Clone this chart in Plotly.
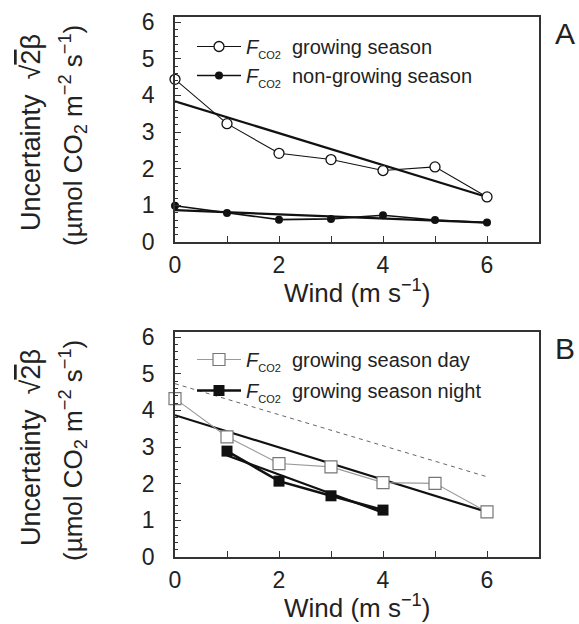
import plotly.graph_objects as go

W, H = 579, 624

# ---- data ----
wind_a = [0, 1, 2, 3, 4, 5, 6]
grow_a = [4.44, 3.23, 2.42, 2.25, 1.95, 2.05, 1.23]
nongrow_a = [0.99, 0.79, 0.61, 0.63, 0.73, 0.60, 0.53]
fit_x = [0, 6]
fit_grow = [3.84, 1.23]
fit_nongrow = [0.87, 0.53]

wind_day = [0, 1, 2, 3, 4, 5, 6]
day_b = [4.32, 3.28, 2.55, 2.46, 2.03, 2.01, 1.23]
wind_night = [1, 2, 3, 4]
night_b = [2.89, 2.07, 1.67, 1.28]
fit_night_x = [1, 4]
fit_night = [2.77, 1.21]
fit_day = [3.87, 1.23]
dash_line = [4.73, 2.19]

xticks = [0, 1, 2, 3, 4, 5, 6, 7]
xticktext = ["0", "", "2", "", "4", "", "6", ""]
yticks = [0, 1, 2, 3, 4, 5, 6]

FONT = "Liberation Sans, Arial, sans-serif"
INK = "#222222"
FCO2 = "<i>F</i><sub><span style='font-size:11px'>CO2</span></sub>"

fig = go.Figure()

# Panel A
fig.add_trace(go.Scatter(x=fit_x, y=fit_grow, mode="lines", line=dict(color="#111", width=2.2),
                         showlegend=False, xaxis="x", yaxis="y", hoverinfo="skip"))
fig.add_trace(go.Scatter(x=fit_x, y=fit_nongrow, mode="lines", line=dict(color="#111", width=2.2),
                         showlegend=False, xaxis="x", yaxis="y", hoverinfo="skip"))
fig.add_trace(go.Scatter(x=wind_a, y=grow_a, mode="lines+markers",
                         name=FCO2 + "  growing season",
                         line=dict(color="#111", width=1.1),
                         marker=dict(symbol="circle", size=10, color="white", line=dict(color="#111", width=1.3)),
                         cliponaxis=False, xaxis="x", yaxis="y", legend="legend"))
fig.add_trace(go.Scatter(x=wind_a, y=nongrow_a, mode="lines+markers",
                         name=FCO2 + "  non-growing season",
                         line=dict(color="#111", width=1.6),
                         marker=dict(symbol="circle", size=8, color="#111"),
                         cliponaxis=False, xaxis="x", yaxis="y", legend="legend"))

# Panel B
fig.add_trace(go.Scatter(x=fit_x, y=dash_line, mode="lines", line=dict(color="#666", width=1, dash="4px,4px"),
                         showlegend=False, xaxis="x2", yaxis="y2", hoverinfo="skip"))
fig.add_trace(go.Scatter(x=fit_x, y=fit_day, mode="lines", line=dict(color="#111", width=2.2),
                         showlegend=False, xaxis="x2", yaxis="y2", hoverinfo="skip"))
fig.add_trace(go.Scatter(x=fit_night_x, y=fit_night, mode="lines", line=dict(color="#111", width=2.2),
                         showlegend=False, xaxis="x2", yaxis="y2", hoverinfo="skip"))
fig.add_trace(go.Scatter(x=wind_day, y=day_b, mode="lines+markers",
                         name=FCO2 + "  growing season day",
                         line=dict(color="#9a9a9a", width=1.1),
                         marker=dict(symbol="square", size=12, color="white", line=dict(color="#777", width=1.2)),
                         cliponaxis=False, xaxis="x2", yaxis="y2", legend="legend2", legendgroup="d"))
fig.add_trace(go.Scatter(x=wind_night, y=night_b, mode="lines+markers",
                         name=FCO2 + "  growing season night",
                         line=dict(color="#111", width=2.6),
                         marker=dict(symbol="square", size=11, color="#111"),
                         cliponaxis=False, xaxis="x2", yaxis="y2", legend="legend2", legendgroup="n"))

xdom = [175 / W, 539 / W]
doma = [1 - 242 / H, 1 - 17 / H]
domb = [1 - 557 / H, 1 - 332 / H]

def xax(anchor):
    return dict(domain=xdom, anchor=anchor, range=[0, 7], tickvals=xticks, ticktext=xticktext,
                ticks="inside", ticklen=6, tickwidth=1, tickcolor="#333",
                showline=True, linecolor="#333", linewidth=1.6, mirror=True,
                showgrid=False, zeroline=False, fixedrange=True, automargin=False,
                tickfont=dict(family=FONT, size=23, color=INK), ticklabelstandoff=2)

def yax(anchor, dom):
    return dict(domain=dom, anchor=anchor, range=[0, 6.14], tickvals=yticks,
                ticks="inside", ticklen=6, tickwidth=1, tickcolor="#333",
                minor=dict(dtick=0.2, ticks="inside", ticklen=3, tickcolor="#333", tickwidth=1),
                showline=True, linecolor="#333", linewidth=1.6, mirror=True,
                showgrid=False, zeroline=False, fixedrange=True, automargin=False,
                tickfont=dict(family=FONT, size=23, color=INK), ticklabelstandoff=14)

fig.update_layout(
    width=W, height=H, margin=dict(l=0, r=0, t=0, b=0, autoexpand=False),
    paper_bgcolor="white", plot_bgcolor="white",
    font=dict(family=FONT, color=INK),
    xaxis=xax("y"), yaxis=yax("x", doma),
    xaxis2=xax("y2"), yaxis2=yax("x2", domb),
    legend=dict(x=192 / W, y=1 - 27 / H, xanchor="left", yanchor="top",
                bgcolor="rgba(0,0,0,0)", font=dict(family=FONT, size=20, color=INK),
                itemwidth=44, tracegroupgap=0),
    legend2=dict(x=192 / W, y=1 - 340 / H, xanchor="left", yanchor="top",
                 bgcolor="rgba(0,0,0,0)", font=dict(family=FONT, size=20, color=INK),
                 itemwidth=44, tracegroupgap=2),
    showlegend=True,
)

ytitle1 = "Uncertainty  √<span style='text-decoration:overline'>2</span>β"
ytitle2 = "(µmol CO<sub>2</sub> m<sup>−2</sup> s<sup>−1</sup>)"
for off, letter in [(0, "A"), (315, "B")]:
    fig.add_annotation(x=31 / W, y=1 - (133 + off) / H, xref="paper", yref="paper", text=ytitle1,
                       xanchor="center", yanchor="middle",
                       textangle=-90, showarrow=False, font=dict(family=FONT, size=27, color=INK))
    fig.add_annotation(x=73 / W, y=1 - (136 + off) / H, xref="paper", yref="paper", text=ytitle2,
                       xanchor="center", yanchor="middle",
                       textangle=-90, showarrow=False, font=dict(family=FONT, size=26, color=INK))
    fig.add_annotation(x=357 / W, y=1 - (291 + off) / H, xref="paper", yref="paper",
                       xanchor="center", yanchor="middle",
                       text="Wind (m s<sup>−1</sup>)", showarrow=False,
                       font=dict(family=FONT, size=26, color=INK))
    fig.add_annotation(x=565 / W, y=1 - (33 + off) / H, xref="paper", yref="paper", text=letter,
                       xanchor="center", yanchor="middle",
                       showarrow=False, font=dict(family=FONT, size=30, color=INK))

fig.write_html("out.html")
